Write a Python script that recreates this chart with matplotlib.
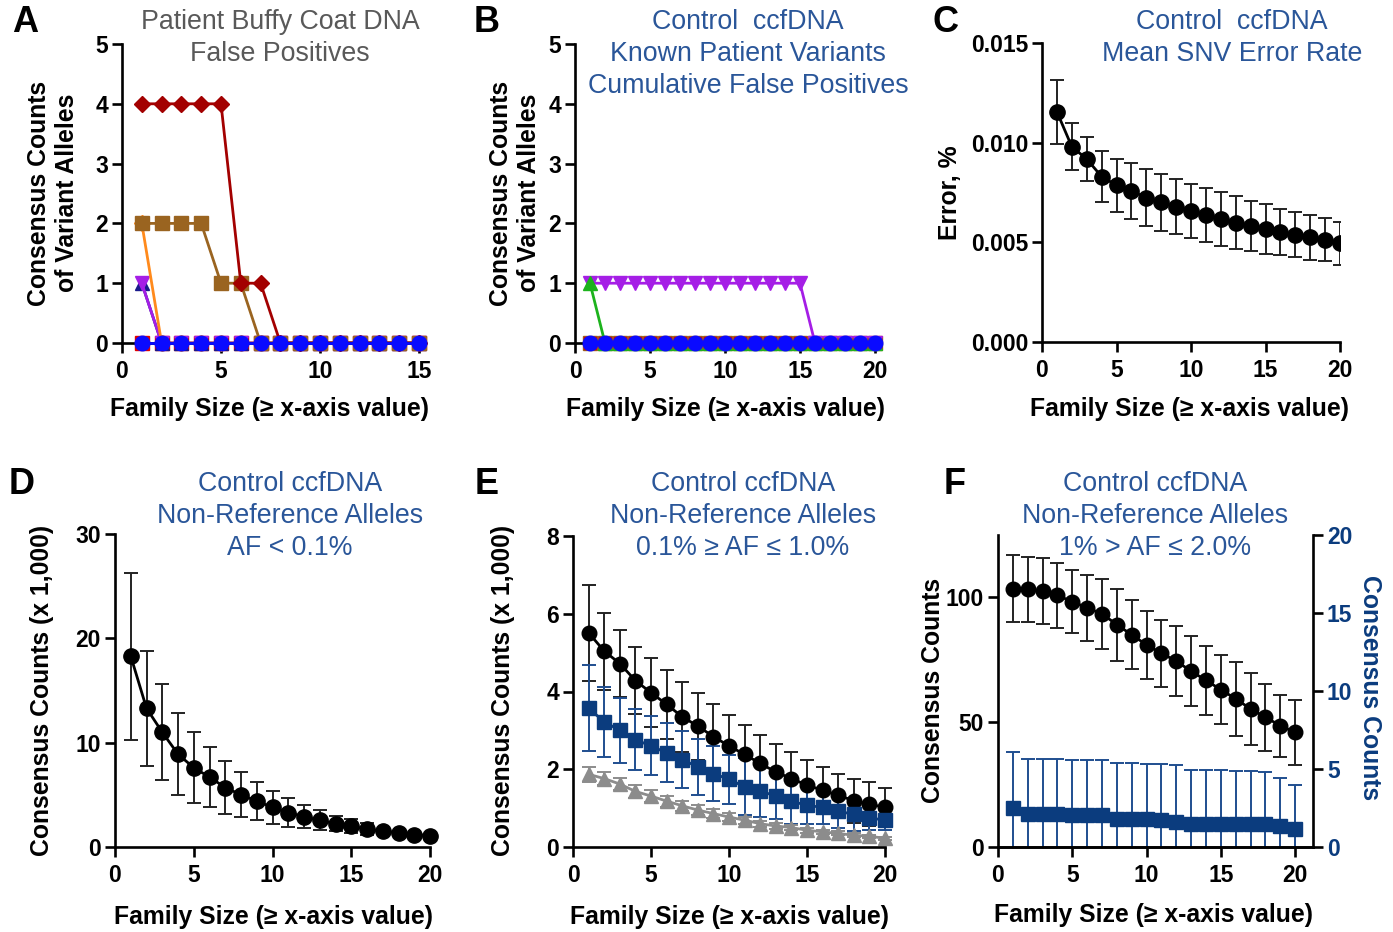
import numpy as np
import matplotlib
matplotlib.use("Agg")
import matplotlib.pyplot as plt

plt.rcParams['font.family'] = ['Liberation Sans', 'DejaVu Sans']

W, H = 1393, 932

# ---- data ----
fs15 = [1, 2, 3, 4, 5, 6, 7, 8, 9, 10, 11, 12, 13, 14, 15]
fs20 = [1, 2, 3, 4, 5, 6, 7, 8, 9, 10, 11, 12, 13, 14, 15, 16, 17, 18, 19, 20]

# A: Patient buffy coat false positives
a_red_sq = [0, 0, 0, 0, 0, 0, 0, 0, 0, 0, 0, 0, 0, 0, 0]
a_navy = [1, 0, 0, 0, 0, 0, 0, 0, 0, 0, 0, 0, 0, 0, 0]
a_purple = [1, 0, 0, 0, 0, 0, 0, 0, 0, 0, 0, 0, 0, 0, 0]
a_orange = [2, 0, 0, 0, 0, 0, 0, 0, 0, 0, 0, 0, 0, 0, 0]
a_darkred = [4, 4, 4, 4, 4, 1, 1, 0, 0, 0, 0, 0, 0, 0, 0]
a_brown = [2, 2, 2, 2, 1, 1, 0, 0, 0, 0, 0, 0, 0, 0, 0]
a_blue = [0, 0, 0, 0, 0, 0, 0, 0, 0, 0, 0, 0, 0, 0, 0]

# B: control ccfDNA, known patient variants
b_brown = [0, 0, 0, 0, 0, 0, 0, 0, 0, 0, 0, 0, 0, 0, 0, 0, 0, 0, 0, 0]
b_red_sq = [0, 0, 0, 0, 0, 0, 0, 0, 0, 0, 0, 0, 0, 0, 0, 0, 0, 0, 0, 0]
b_darkred = [0, 0, 0, 0, 0, 0, 0, 0, 0, 0, 0, 0, 0, 0, 0, 0, 0, 0, 0, 0]
b_purple = [1, 1, 1, 1, 1, 1, 1, 1, 1, 1, 1, 1, 1, 1, 1, 0, 0, 0, 0, 0]
b_green = [1, 0, 0, 0, 0, 0, 0, 0, 0, 0, 0, 0, 0, 0, 0, 0, 0, 0, 0, 0]
b_blue = [0, 0, 0, 0, 0, 0, 0, 0, 0, 0, 0, 0, 0, 0, 0, 0, 0, 0, 0, 0]

# C: mean SNV error rate
c_mean = [0.01155, 0.0098, 0.00918, 0.0083, 0.00786, 0.00758, 0.00724, 0.0070, 0.00679, 0.00657,
          0.00637, 0.00617, 0.00599, 0.00582, 0.00565, 0.00553, 0.00537, 0.00525, 0.00512, 0.00495]
c_err = [0.0016, 0.00117, 0.00112, 0.0013, 0.00134, 0.00139, 0.00142, 0.00143, 0.00139, 0.00136,
         0.00136, 0.00137, 0.00134, 0.00127, 0.00125, 0.00116, 0.00113, 0.00112, 0.00108, 0.00109]

# D: AF < 0.1%
d_mean = [18.3, 13.3, 11.0, 8.9, 7.6, 6.7, 5.7, 5.0, 4.4, 3.8,
          3.3, 2.9, 2.55, 2.24, 1.98, 1.72, 1.5, 1.38, 1.19, 1.09]
d_err = [8.0, 5.5, 4.6, 3.9, 3.4, 2.9, 2.55, 2.15, 1.8, 1.6,
         1.37, 1.12, 0.96, 0.73, 0.67, 0.61, 0.2, 0.15, 0.1, 0.1]

# E: 0.1% - 1.0%
e_blk = [5.51, 5.04, 4.72, 4.28, 3.97, 3.67, 3.35, 3.11, 2.84, 2.60,
         2.38, 2.15, 1.93, 1.76, 1.59, 1.46, 1.33, 1.19, 1.10, 1.02]
e_blk_err = [1.23, 0.99, 0.86, 0.87, 0.88, 0.88, 0.90, 0.86, 0.84, 0.79,
             0.76, 0.73, 0.72, 0.69, 0.65, 0.60, 0.54, 0.56, 0.56, 0.51]
e_blu = [3.57, 3.22, 3.00, 2.76, 2.60, 2.42, 2.25, 2.06, 1.89, 1.74,
         1.55, 1.44, 1.31, 1.18, 1.07, 1.02, 0.92, 0.84, 0.75, 0.69]
e_blu_err = [1.11, 0.90, 0.84, 0.78, 0.76, 0.76, 0.74, 0.73, 0.71, 0.63,
             0.73, 0.66, 0.58, 0.58, 0.48, 0.44, 0.44, 0.43, 0.30, 0.26]
e_gry = [1.87, 1.76, 1.62, 1.43, 1.31, 1.18, 1.06, 0.95, 0.86, 0.77,
         0.69, 0.60, 0.54, 0.50, 0.43, 0.39, 0.35, 0.30, 0.28, 0.22]
e_gry_err = [0.19, 0.17, 0.15, 0.16, 0.15, 0.14, 0.13, 0.12, 0.11, 0.10,
             0.09, 0.08, 0.07, 0.07, 0.06, 0.06, 0.05, 0.05, 0.04, 0.04]

# F: 1% - 2.0%
f_blk = [103.5, 103.2, 102.6, 100.8, 98.3, 95.8, 93.4, 89.1, 85.0, 81.0,
         77.6, 74.5, 70.4, 66.8, 63.0, 59.4, 55.3, 52.0, 48.6, 45.9]
f_blk_err = [13.3, 13.1, 13.2, 13.0, 12.7, 13.2, 13.9, 14.4, 13.8, 13.5,
             13.5, 13.9, 14.0, 13.8, 13.9, 14.8, 14.5, 13.5, 12.4, 13.1]
f_blu = [2.53, 2.14, 2.14, 2.14, 2.03, 2.03, 2.03, 1.78, 1.78, 1.78,
         1.71, 1.60, 1.50, 1.50, 1.50, 1.45, 1.45, 1.45, 1.33, 1.18]
f_blu_err = [3.53, 3.53, 3.53, 3.53, 3.57, 3.57, 3.57, 3.61, 3.61, 3.57,
             3.58, 3.65, 3.42, 3.42, 3.42, 3.43, 3.43, 3.36, 3.12, 2.82]

TITLE_BLUE = '#2A5699'
NAVY = '#0B3C7E'
XLABEL = 'Family Size (\u2265 x-axis value)'
LW_AX = 1.9


def px_axes(l, r, t, b):
    return [l / W, 1 - b / H, (r - l) / W, (b - t) / H]


def style(ax, right=False):
    ax.spines['top'].set_visible(False)
    if not right:
        ax.spines['right'].set_visible(False)
    for s in ax.spines.values():
        s.set_linewidth(LW_AX)
    ax.tick_params(direction='out', length=7, width=LW_AX, labelsize=16.5, pad=3)
    ax.tick_params(axis='x', pad=5)
    for lab in ax.get_xticklabels() + ax.get_yticklabels():
        lab.set_fontweight('bold')


def ftext(x, y, s, **kw):
    fig.text(x / W, 1 - y / H, s, ha='center', va='center', **kw)


fig = plt.figure(figsize=(W / 100, H / 100), dpi=100)

# ---------------- A ----------------
axA = fig.add_axes(px_axes(122, 419, 44, 343))
mk = dict(lw=2, ms=10.5, clip_on=False)
axA.plot(fs15, a_red_sq, color='#E00000', marker='s', **mk)
axA.plot(fs15, a_navy, color='#1A1A8C', marker='^', **mk)
axA.plot(fs15, a_purple, color='#A51EE6', marker='v', **mk)
axA.plot(fs15, a_orange, color='#FF8A1C', marker='D', lw=2, ms=8, clip_on=False)
axA.plot(fs15, a_brown, color='#9A6420', marker='s', **mk)
axA.plot(fs15, a_darkred, color='#A30000', marker='D', lw=2, ms=8.5, clip_on=False)
axA.plot(fs15, a_blue, color='#0A0AFF', marker='o', zorder=5, **mk)
axA.set_xlim(0, 15)
axA.set_ylim(0, 5)
axA.set_xticks([0, 5, 10, 15])
axA.set_yticks([0, 1, 2, 3, 4, 5])
style(axA)

# ---------------- B ----------------
axB = fig.add_axes(px_axes(575, 875, 44, 343))
axB.plot(fs20, b_brown, color='#9A6420', marker='s', **mk)
axB.plot(fs20, b_red_sq, color='#E00000', marker='s', ms=9, lw=2, clip_on=False)
axB.plot(fs20, b_darkred, color='#A30000', marker='D', ms=7.5, lw=2, clip_on=False)
axB.plot(fs20, b_purple, color='#A51EE6', marker='v', **mk)
axB.plot(fs20, b_green, color='#1DB31D', marker='^', **mk)
axB.plot(fs20, b_blue, color='#0A0AFF', marker='o', zorder=5, **mk)
axB.set_xlim(0, 20)
axB.set_ylim(0, 5)
axB.set_xticks([0, 5, 10, 15, 20])
axB.set_yticks([0, 1, 2, 3, 4, 5])
style(axB)

eb = dict(capsize=5, elinewidth=1.4, capthick=1.4, lw=2)

# ---------------- C ----------------
axC = fig.add_axes(px_axes(1042, 1340, 43, 342))
axC.errorbar(fs20, c_mean, yerr=c_err, color='black', marker='o', ms=11, ecolor='#222222', **eb)
axC.set_xlim(0, 20)
axC.set_ylim(0, 0.015)
axC.set_xticks([0, 5, 10, 15, 20])
axC.set_yticks([0, 0.005, 0.010, 0.015])
axC.set_yticklabels(['0.000', '0.005', '0.010', '0.015'])
style(axC)

# ---------------- D ----------------
axD = fig.add_axes(px_axes(115, 430, 534, 847))
axD.errorbar(fs20, d_mean, yerr=d_err, color='black', marker='o', ms=11, ecolor='#222222',
             clip_on=False, **eb)
axD.set_xlim(0, 20)
axD.set_ylim(0, 30)
axD.set_xticks([0, 5, 10, 15, 20])
axD.set_yticks([0, 10, 20, 30])
style(axD)

# ---------------- E ----------------
axE = fig.add_axes(px_axes(573, 885, 536, 847))
axE.errorbar(fs20, e_blk, yerr=e_blk_err, color='black', marker='o', ms=10.5, ecolor='#222222',
             clip_on=False, **eb)
axE.errorbar(fs20, e_blu, yerr=e_blu_err, color=NAVY, marker='s', ms=9.5, ecolor='#1F4E8F',
             clip_on=False, **eb)
axE.errorbar(fs20, e_gry, yerr=e_gry_err, color='#8C8C8C', marker='^', ms=10, ecolor='#8C8C8C',
             clip_on=False, **eb)
axE.set_xlim(0, 20)
axE.set_ylim(0, 8)
axE.set_xticks([0, 5, 10, 15, 20])
axE.set_yticks([0, 2, 4, 6, 8])
style(axE)

# ---------------- F ----------------
axF = fig.add_axes(px_axes(998, 1313, 535, 847))
axF2 = axF.twinx()
axF2.errorbar(fs20, f_blu, yerr=f_blu_err, color=NAVY, marker='s', ms=9.5, ecolor='#1F4E8F', **eb)
axF.errorbar(fs20, f_blk, yerr=f_blk_err, color='black', marker='o', ms=10.5, ecolor='#222222',
             clip_on=False, **eb)
axF.set_zorder(axF2.get_zorder() + 1)
axF.patch.set_visible(False)
axF.set_xlim(0, 21.2)
axF.set_ylim(0, 125)
axF.set_xticks([0, 5, 10, 15, 20])
axF.set_yticks([0, 50, 100])
axF2.set_ylim(0, 20)
axF2.set_yticks([0, 5, 10, 15, 20])
style(axF, right=True)
style(axF2, right=True)
axF.spines['right'].set_visible(False)
axF2.spines['left'].set_visible(False)
for lab in axF2.get_yticklabels():
    lab.set_color(NAVY)

# ---------------- text ----------------
tfs = 19.3
ls = 1.28
ftext(280, 38, 'Patient Buffy Coat DNA\nFalse Positives', fontsize=tfs, color='#595959', linespacing=ls)
ftext(748, 54, 'Control  ccfDNA\nKnown Patient Variants\nCumulative False Positives', fontsize=tfs,
      color=TITLE_BLUE, linespacing=ls)
ftext(1232, 38, 'Control  ccfDNA\nMean SNV Error Rate', fontsize=tfs, color=TITLE_BLUE, linespacing=ls)
ftext(290, 516, 'Control ccfDNA\nNon-Reference Alleles\nAF < 0.1%', fontsize=tfs, color=TITLE_BLUE,
      linespacing=ls)
ftext(743, 516, 'Control ccfDNA\nNon-Reference Alleles\n0.1% \u2265 AF \u2264 1.0%', fontsize=tfs,
      color=TITLE_BLUE, linespacing=ls)
ftext(1155, 516, 'Control ccfDNA\nNon-Reference Alleles\n1% > AF \u2264 2.0%', fontsize=tfs,
      color=TITLE_BLUE, linespacing=ls)

lfs = 17.8
for x, y in [(269, 409), (726, 409), (1190, 409), (273, 917), (729, 917), (1153, 915)]:
    ftext(x, y, XLABEL, fontsize=lfs, fontweight='bold')

ftext(53, 193, 'Consensus Counts\nof Variant Alleles', fontsize=lfs, fontweight='bold', rotation=90,
      linespacing=1.2)
ftext(515, 193, 'Consensus Counts\nof Variant Alleles', fontsize=lfs, fontweight='bold', rotation=90,
      linespacing=1.2)
ftext(950, 193, 'Error, %', fontsize=lfs, fontweight='bold', rotation=90)
ftext(42, 690, 'Consensus Counts (x 1,000)', fontsize=lfs, fontweight='bold', rotation=90)
ftext(503, 690, 'Consensus Counts (x 1,000)', fontsize=lfs, fontweight='bold', rotation=90)
ftext(933, 690, 'Consensus Counts', fontsize=lfs, fontweight='bold', rotation=90)
ftext(1370, 688, 'Consensus Counts', fontsize=lfs, fontweight='bold', rotation=-90, color=NAVY)

for x, y, s in [(25, 22, 'A'), (487, 22, 'B'), (945, 22, 'C'),
                (22, 485, 'D'), (487, 485, 'E'), (955, 485, 'F')]:
    ftext(x, y, s, fontsize=26, fontweight='bold')

fig.savefig('out.png', dpi=100)
